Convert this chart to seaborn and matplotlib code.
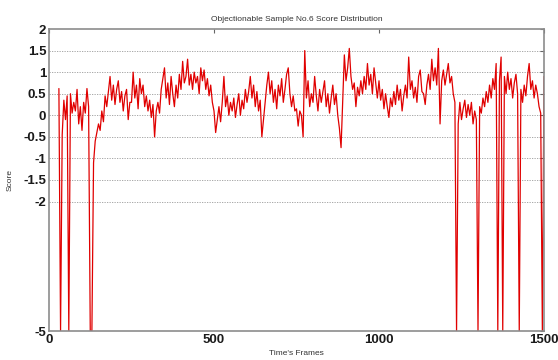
import numpy as np
import pandas as pd
import matplotlib
matplotlib.use("Agg")
import matplotlib.pyplot as plt
import seaborn as sns

# ---- data, one value every 5 frames starting at frame 30 ----
frame_start = 30
frame_step = 5
scores = [
    0.62, -5, -0.45, 0.35, -0.1, 0.45, -5, 0.5, 0.05, 0.3,        # 30..75
    0.1, 0.6, -0.2, 0.2, -0.35, 0.3, 0.05, 0.62, 0.2, -5,         # 80..125
    -5, -1.1, -0.6, -0.4, -0.2, -0.35, 0.1, -0.15, 0.45, 0.2,     # 130..175
    0.55, 0.9, 0.35, 0.7, 0.25, 0.6, 0.8, 0.3, 0.55, 0.1,         # 180..225
    0.45, 0.6, -0.1, 0.3, 0.3, 1.0, 0.4, 0.7, 0.15, 0.85,         # 230..275
    0.5, 0.7, 0.2, 0.45, 0.1, 0.35, -0.05, 0.25, -0.5, 0.1,       # 280..325
    0.3, 0.05, 0.6, 0.85, 1.1, 0.4, 0.75, 0.25, 0.9, 0.5,         # 330..375
    0.2, 0.7, 0.4, 0.95, 0.6, 1.25, 0.75, 0.9, 1.3, 0.7,          # 380..425
    0.95, 0.6, 1.0, 0.75, 0.9, 0.5, 1.1, 0.8, 1.05, 0.6,          # 430..475
    0.85, 0.45, 0.7, 0.3, 0.1, -0.4, -0.1, 0.2, -0.15, 0.3,       # 480..525
    0.9, 0.2, 0.45, 0.0, 0.3, 0.1, 0.4, -0.05, 0.25, 0.5,         # 530..575
    0.0, 0.35, 0.15, 0.6, 0.3, 0.55, 0.9, 0.4, 0.7, 0.2,          # 580..625
    0.55, 0.1, 0.35, -0.5, -0.1, 0.3, 0.7, 1.0, 0.5, 0.8,         # 630..675
    0.3, 0.6, 0.15, 0.7, 0.45, 0.85, 0.3, 0.6, 0.95, 1.1,         # 680..725
    0.5, 0.2, 0.45, 0.1, 0.15, -0.25, 0.1, 0.0, -0.5, 1.5,        # 730..775
    0.4, 0.8, 0.2, 0.5, 0.3, 0.9, 0.45, 0.1, 0.6, 0.3,            # 780..825
    0.55, 0.8, 0.2, 0.5, 0.05, 0.4, 0.7, 0.25, 0.5, 0.0,          # 830..875
    -0.3, -0.75, 0.3, 1.4, 0.8, 1.1, 1.55, 0.9, 0.6, 0.75,        # 880..925
    0.2, 0.65, 0.45, 0.8, 0.5, 0.9, 0.6, 1.2, 0.7, 0.95,          # 930..975
    0.5, 1.1, 0.75, 0.4, 0.8, 0.35, 0.6, 0.15, 0.5, 0.2,          # 980..1025
    -0.05, 0.4, 0.2, 0.55, 0.25, 0.7, 0.35, 0.6, 0.1, 0.45,       # 1030..1075
    0.7, 0.4, 1.35, 0.6, 0.8, 0.4, 0.65, 0.3, 0.9, 1.05,          # 1080..1125
    0.55, 0.5, 0.25, 0.7, 0.95, 0.6, 1.3, 0.8, 1.1, 0.7,          # 1130..1175
    1.55, -0.2, 0.8, 1.05, 0.7, 0.95, 1.2, 0.75, 0.9, 0.5,        # 1180..1225
    0.3, -5, -0.2, 0.3, -0.1, 0.15, 0.35, -0.05, 0.25, 0.0,       # 1230..1275
    0.3, -0.2, 0.1, -0.1, -5, 0.2, 0.05, 0.4, 0.2, 0.55,          # 1280..1325
    0.3, 0.7, 0.4, 0.85, 0.6, 1.2, -5, 0.8, 1.35, -5,             # 1330..1375
    0.9, 0.5, 1.0, 0.6, 0.85, 0.4, 0.75, 0.95, 0.5, -5,           # 1380..1425
    0.6, 0.3, 0.7, 0.45, 0.9, 1.2, 0.6, 0.8, 0.4, 0.7,            # 1430..1475
    0.5, 0.2, 0.05, -5, 0.9,                                      # 1480..1500
]
frames = frame_start + frame_step * np.arange(len(scores))

y_ticks = [-5, -2, -1.5, -1, -0.5, 0, 0.5, 1, 1.5, 2]
y_tick_labels = ["-5", "-2", "-1.5", "-1", "-0.5", "0", "0.5", "1", "1.5", "2"]
x_ticks = [0, 500, 1000, 1500]
x_tick_labels = ["0", "500", "1000", "1500"]

title = "Objectionable Sample No.6 Score Distribution"
x_label = "Time's Frames"
y_label = "Score"

df = pd.DataFrame({"frame": frames, "score": scores})

# ---- style ----
sns.set_theme(style="white")
plt.rcParams["font.family"] = ["Liberation Sans", "DejaVu Sans"]

fig = plt.figure(figsize=(5.58, 3.60), dpi=100)
ax = fig.add_axes([49 / 558, 1 - 331 / 360, (544 - 49) / 558, (331 - 29) / 360])

sns.lineplot(data=df, x="frame", y="score", ax=ax, color="#e00000",
             linewidth=0.9, estimator=None)

ax.set_xlim(0, 1500)
ax.set_ylim(-5, 2)
ax.set_yticks(y_ticks)
ax.set_yticklabels(y_tick_labels)
ax.set_xticks(x_ticks)
ax.set_xticklabels(x_tick_labels)

ax.grid(False)
for yv in y_ticks:
    if -5 < yv < 2:
        ax.axhline(yv, color="#9a9a9a", linestyle=(0, (1.5, 1.5)), linewidth=0.6, zorder=0)

for s in ax.spines.values():
    s.set_color("#8c8c8c")
    s.set_linewidth(1.2)

ax.tick_params(axis="both", direction="in", length=3, width=0.8, color="#666666",
               top=True, right=True, labelsize=9.5, labelcolor="#1a1a1a", pad=2)
for lab in ax.get_xticklabels() + ax.get_yticklabels():
    lab.set_fontweight("bold")

ax.set_title(title, fontsize=6, color="#333333", pad=6)
ax.set_xlabel(x_label, fontsize=6, color="#333333", labelpad=3)
ax.set_ylabel(y_label, fontsize=6, color="#333333", labelpad=7)

fig.savefig("out.png", dpi=100)
